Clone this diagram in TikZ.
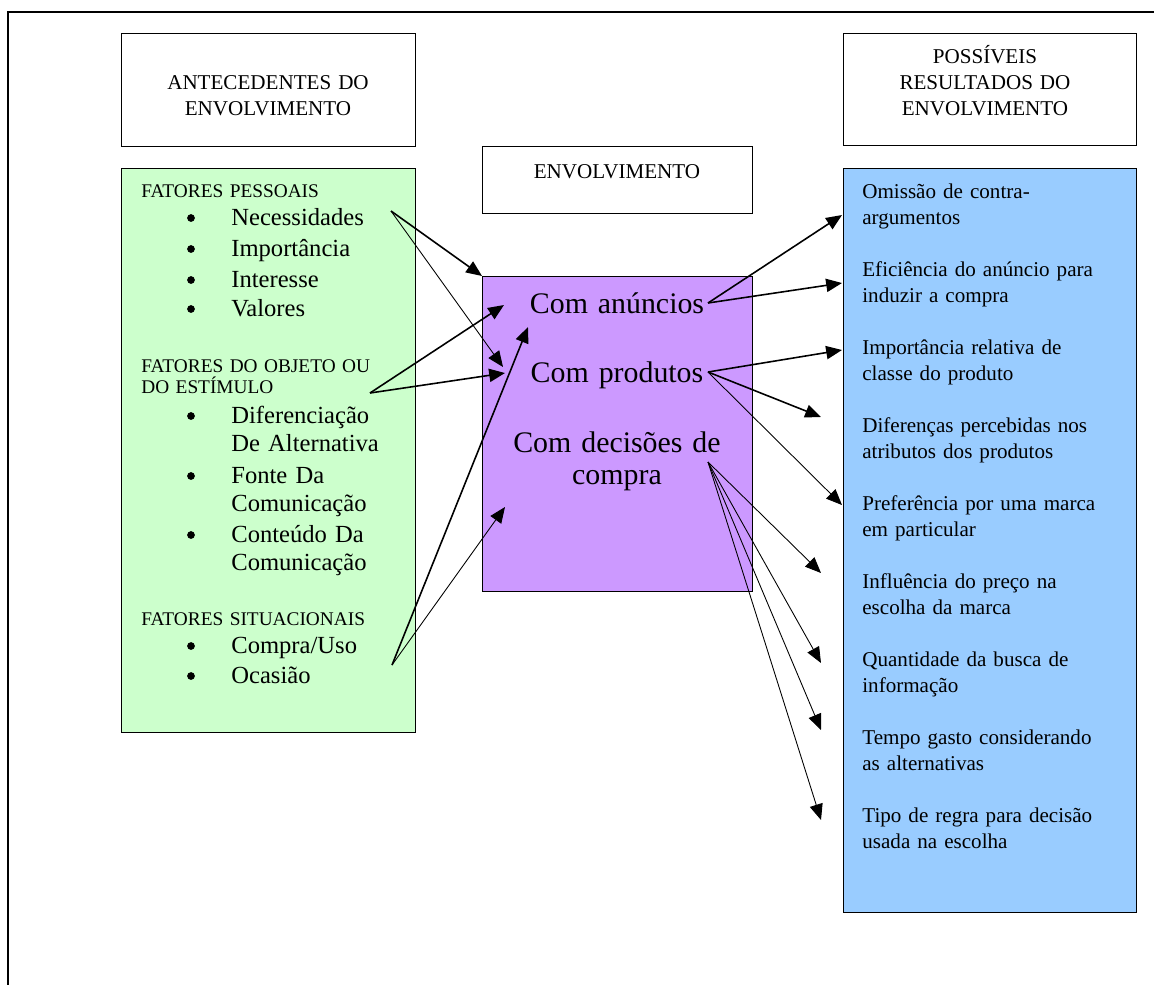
\documentclass[tikz,border=0pt]{standalone}
\usepackage{fontspec}
\setmainfont{Liberation Serif}
\usetikzlibrary{arrows.meta}
\definecolor{lightgreen}{HTML}{CCFFCC}
\definecolor{lilac}{HTML}{CC99FF}
\definecolor{lightblue}{HTML}{99CCFF}

\tikzset{
	box/.style={draw,line width=0.8pt,inner sep=0pt,anchor=north west},
	head/.style={font=\fontsize{12}{15}\selectfont,text width=5.6cm,align=center,anchor=base,inner sep=0pt},
	group/.style={font=\fontsize{11}{12}\selectfont,text width=5cm,align=left,anchor=base west,inner sep=0pt},
	item/.style={font=\fontsize{14}{16.4}\selectfont,text width=3.6cm,align=left,anchor=base west,inner sep=0pt},
	dot/.style={circle,fill,inner sep=0pt,minimum size=4.4pt},
	level/.style={font=\fontsize{17}{18.7}\selectfont,text width=5.2cm,align=center,anchor=base,inner sep=0pt},
	result/.style={font=\fontsize{12}{15}\selectfont,text width=5.4cm,align=left,anchor=base west,inner sep=0pt},
	arr/.style={-{Triangle[length=9pt,width=7.5pt]},line width=0.9pt},
	arrthin/.style={-{Triangle[length=9pt,width=7.5pt]},line width=0.5pt},
}

\begin{document}
\begin{tikzpicture}[x=0.02cm,y=-0.02cm]
	\useasboundingbox (0,0) rectangle (1154,985);
	\draw[line width=1.2pt] (1154,12) -- (8,12) -- (8,985);

	% boxes
	\node[box,minimum width=5.88cm,minimum height=2.26cm] (antec) at (121,33) {};
	\node[box,fill=lightgreen,minimum width=5.88cm,minimum height=11.28cm] (factors) at (121,168) {};
	\node[box,minimum width=5.4cm,minimum height=1.34cm] (envol) at (482,146) {};
	\node[box,fill=lilac,minimum width=5.4cm,minimum height=6.3cm] (types) at (482,276) {};
	\node[box,minimum width=5.86cm,minimum height=2.24cm] (possib) at (843,33) {};
	\node[box,fill=lightblue,minimum width=5.86cm,minimum height=14.88cm] (results) at (843,168) {};

	% headings
	\node[head] (antectxt) at (268,89) {ANTECEDENTES DO\\ENVOLVIMENTO};
	\node[head] (envoltxt) at (617,178) {ENVOLVIMENTO};
	\node[head] (possibtxt) at (985,63) {POSSÍVEIS\\RESULTADOS DO\\ENVOLVIMENTO};

	% antecedents
	\node[group] (pess) at (141,197) {FATORES PESSOAIS};
	\node[group] (obj) at (141,372) {FATORES DO OBJETO OU\\DO ESTÍMULO};
	\node[group] (sit) at (141,625) {FATORES SITUACIONAIS};
	\foreach \txt/\y [count=\k] in {Necessidades/225,Importância/256,Interesse/287,Valores/316,
		{Diferenciação\\De Alternativa}/423,{Fonte Da\\Comunicação}/483,{Conteúdo Da\\Comunicação}/542,
		{Compra/Uso}/653,Ocasião/683} {
		\node[dot] (bul\k) at (191,\y-7) {};
		\node[item] (fac\k) at (231,\y) {\txt};
	}

	% involvement
	\node[level] (ads) at (617,313) {Com anúncios};
	\node[level] (prods) at (617,382) {Com produtos};
	\node[level] (decs) at (617,452) {Com decisões de\\compra};

	% results
	\foreach \txt [count=\i from 0] in {{Omissão de contra-\\argumentos},{Eficiência do anúncio para\\induzir a compra},
		{Importância relativa de\\classe do produto},{Diferenças percebidas nos\\atributos dos produtos},
		{Preferência por uma marca\\em particular},{Influência do preço na\\escolha da marca},
		{Quantidade da busca de\\informação},{Tempo gasto considerando\\as alternativas},
		{Tipo de regra para decisão\\usada na escolha}}
		\node[result] (res\i) at (862,{198+78*\i}) {\txt};

	% arrow ends
	\coordinate (fromnec) at (391,211);
	\coordinate (fromobj) at (370,393);
	\coordinate (fromsit) at (392,665);
	\coordinate (toads1) at (504,305);
	\coordinate (toads2) at (528,327);
	\coordinate (toprod1) at (503,367);
	\coordinate (toprod2) at (505,373);
	\coordinate (todec) at (505,507);
	\coordinate (fromads) at (708,303);
	\coordinate (fromprod) at (708,372);
	\coordinate (fromdec) at (708,462);
	\foreach \y [count=\k] in {215,283,350,505} \coordinate (out\k) at (842,\y);
	\coordinate (outd) at (821,417);
	\foreach \y [count=\k] in {573,663,730,820} \coordinate (dec\k) at (821,\y);

	% connectors antecedents -> involvement
	\draw[arr] (fromnec) -- (types.north west);
	\draw[arrthin] (fromnec) -- (toprod1);
	\draw[arr] (fromobj) -- (toads1);
	\draw[arr] (fromobj) -- (toprod2);
	\draw[arr] (fromsit) -- (toads2);
	\draw[arrthin] (fromsit) -- (todec);

	% connectors involvement -> results
	\draw[arr] (fromads) -- (out1);
	\draw[arr] (fromads) -- (out2);
	\draw[arr] (fromprod) -- (out3);
	\draw[arr] (fromprod) -- (outd);
	\draw[arrthin] (fromprod) -- (out4);
	\foreach \k in {1,...,4} \draw[arrthin] (fromdec) -- (dec\k);
\end{tikzpicture}
\end{document}
